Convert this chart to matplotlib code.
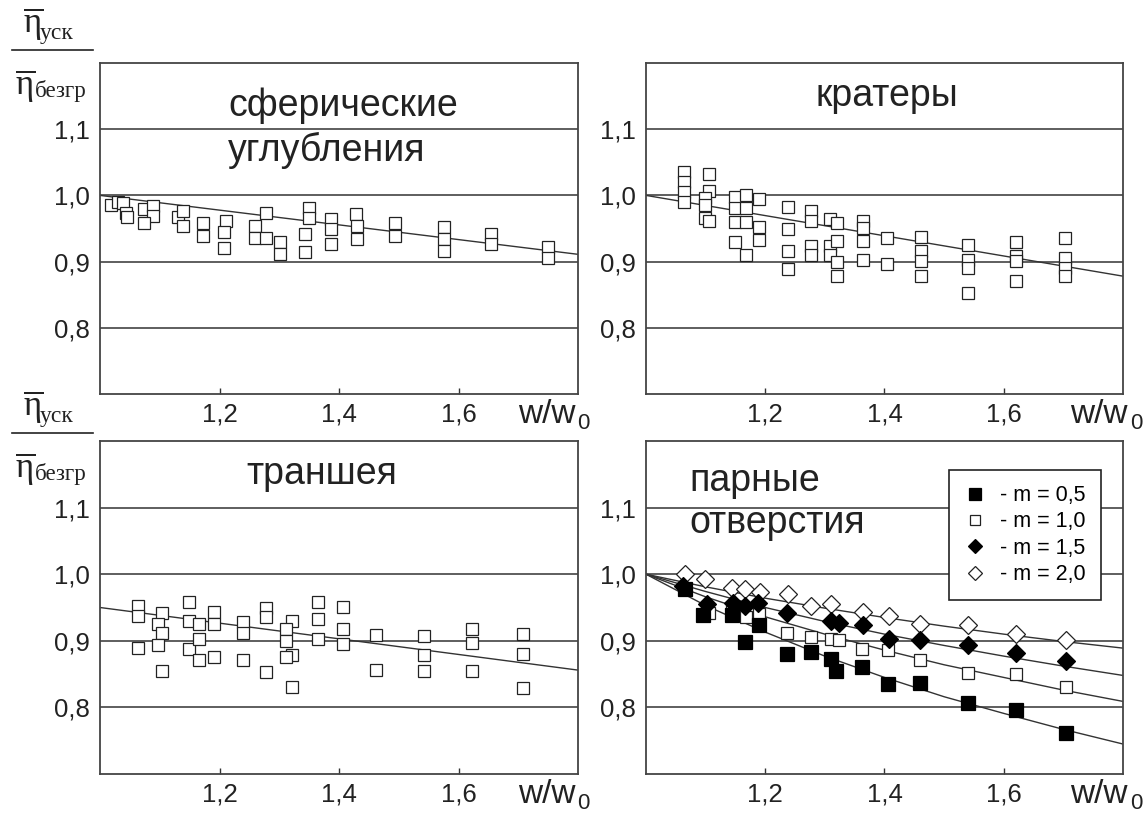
import matplotlib
matplotlib.use("Agg")
import matplotlib.pyplot as plt

plt.rcParams['font.family'] = ['Liberation Sans', 'DejaVu Sans']
plt.rcParams['mathtext.fontset'] = 'custom'
plt.rcParams['mathtext.rm'] = 'Liberation Serif'
plt.rcParams['mathtext.it'] = 'Liberation Serif:italic'

# axis ticks
x_ticks = [1.2, 1.4, 1.6]
x_tick_labels = ['1,2', '1,4', '1,6']
y_ticks = [0.8, 0.9, 1.0, 1.1]
y_tick_labels = ['0,8', '0,9', '1,0', '1,1']

# сферические углубления
sph_x = [1.019, 1.030, 1.038, 1.043, 1.046, 1.074, 1.088, 1.088, 1.074, 1.130, 1.139, 1.139,
         1.172, 1.172, 1.211, 1.208, 1.208, 1.259, 1.259, 1.278, 1.278, 1.301, 1.301,
         1.343, 1.343, 1.350, 1.350, 1.386, 1.386, 1.386, 1.429, 1.430, 1.430,
         1.494, 1.494, 1.576, 1.576, 1.576, 1.655, 1.655, 1.750, 1.750]
sph_y = [0.986, 0.990, 0.988, 0.974, 0.967, 0.979, 0.984, 0.969, 0.958, 0.967, 0.976, 0.954,
         0.959, 0.939, 0.962, 0.944, 0.921, 0.954, 0.936, 0.974, 0.936, 0.929, 0.911,
         0.942, 0.914, 0.981, 0.966, 0.964, 0.949, 0.927, 0.972, 0.954, 0.934,
         0.959, 0.939, 0.952, 0.934, 0.916, 0.942, 0.927, 0.922, 0.906]
sph_fit_x = [1.0, 1.8]
sph_fit_y = [1.0, 0.911]

# кратеры
cr_x = [1.063, 1.063, 1.063, 1.063,
        1.106, 1.106, 1.099, 1.099, 1.099, 1.106,
        1.149, 1.149, 1.149, 1.149,
        1.168, 1.168, 1.168, 1.168,
        1.190, 1.190, 1.190,
        1.238, 1.238, 1.238, 1.238,
        1.276, 1.276, 1.276, 1.276,
        1.309, 1.309, 1.309,
        1.321, 1.321, 1.321, 1.321,
        1.364, 1.364, 1.364, 1.364,
        1.405, 1.405,
        1.461, 1.461, 1.461, 1.461,
        1.540, 1.540, 1.540, 1.540,
        1.621, 1.621, 1.621, 1.621,
        1.703, 1.703, 1.703, 1.703]
cr_y = [1.035, 1.020, 1.005, 0.990,
        1.032, 1.006, 0.996, 0.986, 0.966, 0.961,
        0.998, 0.981, 0.960, 0.929,
        1.001, 0.981, 0.960, 0.910,
        0.994, 0.952, 0.932,
        0.982, 0.949, 0.916, 0.889,
        0.977, 0.961, 0.924, 0.910,
        0.964, 0.924, 0.910,
        0.959, 0.931, 0.899, 0.879,
        0.961, 0.951, 0.931, 0.902,
        0.935, 0.897,
        0.937, 0.916, 0.901, 0.879,
        0.925, 0.902, 0.890, 0.853,
        0.929, 0.909, 0.901, 0.871,
        0.935, 0.906, 0.890, 0.879]
cr_fit_x = [1.0, 1.8]
cr_fit_y = [1.0, 0.878]

# траншея
tr_x = [1.064, 1.064, 1.064,
        1.104, 1.097, 1.104, 1.097, 1.104,
        1.149, 1.149, 1.149,
        1.166, 1.166, 1.166,
        1.191, 1.191, 1.191,
        1.239, 1.239, 1.239,
        1.277, 1.277, 1.277,
        1.322, 1.311, 1.311, 1.322, 1.311, 1.322,
        1.365, 1.365, 1.365,
        1.407, 1.407, 1.407,
        1.462, 1.462,
        1.542, 1.542, 1.542,
        1.623, 1.623, 1.623,
        1.708, 1.708, 1.708]
tr_y = [0.953, 0.937, 0.889,
        0.942, 0.925, 0.912, 0.894, 0.854,
        0.958, 0.929, 0.888,
        0.925, 0.902, 0.871,
        0.943, 0.925, 0.875,
        0.928, 0.912, 0.871,
        0.949, 0.935, 0.853,
        0.930, 0.917, 0.899, 0.878, 0.875, 0.830,
        0.958, 0.932, 0.902,
        0.950, 0.917, 0.895,
        0.909, 0.856,
        0.907, 0.878, 0.855,
        0.917, 0.896, 0.855,
        0.910, 0.880, 0.829]
tr_fit_x = [1.0, 1.8]
tr_fit_y = [0.950, 0.856]

# парные отверстия
m05_x = [1.065, 1.095, 1.145, 1.166, 1.190, 1.236, 1.276, 1.310, 1.319, 1.363, 1.406, 1.460, 1.540, 1.621, 1.704]
m05_y = [0.978, 0.938, 0.938, 0.898, 0.923, 0.880, 0.883, 0.873, 0.855, 0.861, 0.835, 0.837, 0.806, 0.796, 0.761]
m10_x = [1.106, 1.145, 1.168, 1.190, 1.237, 1.276, 1.310, 1.324, 1.363, 1.406, 1.460, 1.540, 1.621, 1.704]
m10_y = [0.941, 0.945, 0.935, 0.940, 0.912, 0.906, 0.903, 0.901, 0.887, 0.886, 0.871, 0.851, 0.850, 0.830]
m15_x = [1.062, 1.103, 1.146, 1.166, 1.188, 1.237, 1.310, 1.323, 1.364, 1.407, 1.460, 1.540, 1.621, 1.704]
m15_y = [0.983, 0.956, 0.957, 0.952, 0.957, 0.942, 0.929, 0.926, 0.924, 0.903, 0.901, 0.893, 0.882, 0.869]
m20_x = [1.065, 1.099, 1.144, 1.166, 1.191, 1.238, 1.276, 1.311, 1.364, 1.407, 1.460, 1.540, 1.621, 1.704]
m20_y = [1.000, 0.993, 0.980, 0.978, 0.974, 0.971, 0.953, 0.956, 0.943, 0.937, 0.925, 0.923, 0.910, 0.901]
fit_x = [1.0, 1.1, 1.2, 1.3, 1.4, 1.5, 1.6, 1.7, 1.8]
m05_fit = [1.0, 0.953, 0.913, 0.877, 0.845, 0.816, 0.791, 0.767, 0.745]
m10_fit = [1.0, 0.966, 0.936, 0.910, 0.886, 0.864, 0.845, 0.826, 0.809]
m15_fit = [1.0, 0.974, 0.950, 0.929, 0.910, 0.893, 0.877, 0.862, 0.848]
m20_fit = [1.0, 0.981, 0.964, 0.949, 0.935, 0.922, 0.910, 0.899, 0.889]

W, H = 1146, 816
fig = plt.figure(figsize=(W / 100, H / 100), dpi=100)


def panel(left, top, right, bottom):
    return fig.add_axes([left / W, 1 - bottom / H, (right - left) / W, (bottom - top) / H])


def style(ax, wx):
    ax.set_xlim(1.0, 1.8)
    ax.set_ylim(0.7, 1.2)
    ax.set_xticks(x_ticks)
    ax.set_xticklabels(x_tick_labels)
    ax.set_yticks(y_ticks)
    ax.set_yticklabels(y_tick_labels)
    ax.tick_params(axis='y', length=0, pad=7, labelsize=18.5, labelcolor='#222')
    ax.tick_params(axis='x', direction='in', length=4.5, width=1, pad=6,
                   labelsize=18.5, labelcolor='#222', color='#333')
    for y in y_ticks:
        ax.axhline(y, color='#333', lw=1.1, zorder=1)
    for s in ax.spines.values():
        s.set_color('#444')
        s.set_linewidth(1.3)
    wt = ax.text(wx, -0.062, 'w/w', transform=ax.transAxes,
                 fontsize=24, va='center', ha='left', color='#222')
    # subscript "0", hanging below the end of "w/w"
    ax.annotate('0', xy=(1.03, 0.22), xycoords=wt, fontsize=16,
                va='center', ha='left', color='#222', annotation_clip=False)


def ratio_label(yl):
    # yl: pixel row of the fraction bar
    fig.add_artist(plt.Line2D([12 / W, 93 / W], [1 - yl / H, 1 - yl / H],
                              color='#222', lw=1.2))
    fig.text(23 / W, 1 - (yl - 18) / H, r'$\overline{\mathrm{η}}$', fontsize=25,
             va='baseline', ha='left', color='#222')
    fig.text(40 / W, 1 - (yl - 11) / H, 'уск', fontsize=17, family='Liberation Serif',
             va='baseline', ha='left', color='#222')
    fig.text(15 / W, 1 - (yl + 44) / H, r'$\overline{\mathrm{η}}$', fontsize=25,
             va='baseline', ha='left', color='#222')
    fig.text(35 / W, 1 - (yl + 47) / H, 'безгр', fontsize=16.5, family='Liberation Serif',
             va='baseline', ha='left', color='#222')


open_sq = dict(marker='s', ms=8.6, mfc='white', mec='#222', mew=0.9, ls='none', zorder=3)
fit_style = dict(color='#333', lw=1.0, zorder=2)

ax1 = panel(100, 63, 578, 394)
style(ax1, 0.875)
ax1.plot(sph_fit_x, sph_fit_y, **fit_style)
ax1.plot(sph_x, sph_y, **open_sq)
ax1.text(0.268, 0.87, 'сферические', transform=ax1.transAxes, fontsize=27, va='center', color='#222')
ax1.text(0.268, 0.735, 'углубления', transform=ax1.transAxes, fontsize=27, va='center', color='#222')

ax2 = panel(646, 63, 1123, 394)
style(ax2, 0.89)
ax2.plot(cr_fit_x, cr_fit_y, **fit_style)
ax2.plot(cr_x, cr_y, **open_sq)
ax2.text(0.505, 0.90, 'кратеры', transform=ax2.transAxes, fontsize=27, va='center', ha='center', color='#222')

ax3 = panel(100, 441, 578, 774)
style(ax3, 0.875)
ax3.plot(tr_fit_x, tr_fit_y, **fit_style)
ax3.plot(tr_x, tr_y, **open_sq)
ax3.text(0.465, 0.90, 'траншея', transform=ax3.transAxes, fontsize=27, va='center', ha='center', color='#222')

ax4 = panel(646, 441, 1123, 774)
style(ax4, 0.89)
for fy in [m05_fit, m10_fit, m15_fit, m20_fit]:
    ax4.plot(fit_x, fy, **fit_style)
h20, = ax4.plot(m20_x, m20_y, marker='D', ms=8.8, mfc='white', mec='#222', mew=0.9, ls='none', zorder=3)
h15, = ax4.plot(m15_x, m15_y, marker='D', ms=8.8, mfc='black', mec='black', mew=0.9, ls='none', zorder=4)
h10, = ax4.plot(m10_x, m10_y, **open_sq)
h05, = ax4.plot(m05_x, m05_y, marker='s', ms=9.6, mfc='black', mec='black', mew=0.9, ls='none', zorder=5)
ax4.text(0.09, 0.88, 'парные', transform=ax4.transAxes, fontsize=27, va='center', color='#222')
ax4.text(0.09, 0.754, 'отверстия', transform=ax4.transAxes, fontsize=27, va='center', color='#222')
leg = ax4.legend([h05, h10, h15, h20], ['- m = 0,5', '- m = 1,0', '- m = 1,5', '- m = 2,0'],
                 loc='upper right', bbox_to_anchor=(0.954, 0.913), borderaxespad=0,
                 fontsize=15.5, frameon=True, fancybox=False, framealpha=1, edgecolor='#222',
                 handlelength=1.0, handletextpad=0.7, borderpad=0.7, labelspacing=0.25,
                 markerscale=0.85)
leg.get_frame().set_linewidth(1.2)

ratio_label(50)
ratio_label(433)

fig.savefig('out.png', dpi=100)
